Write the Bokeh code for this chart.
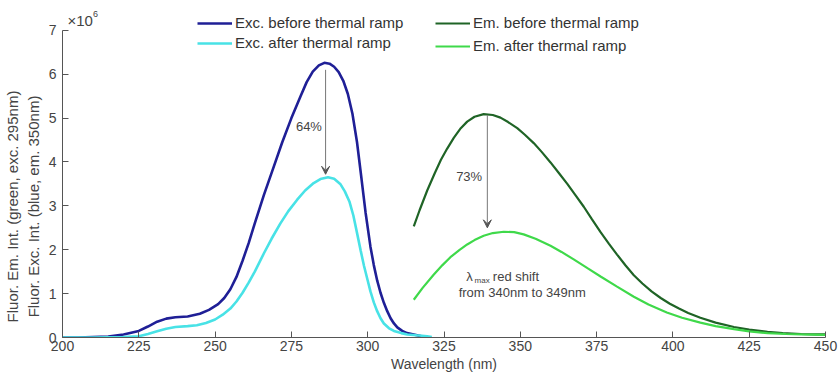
from bokeh.plotting import figure
from bokeh.models import Range1d, Label, Arrow, VeeHead, Legend, LegendItem
from bokeh.embed import file_html
from bokeh.resources import INLINE

# ---- data (values in units of 1e6) ----
exc_before_nm = [200, 205, 210, 215, 220, 225, 228, 231, 234, 237, 241, 245, 248, 251, 253,
                 255, 257, 259, 261, 263, 266, 269, 272, 275, 278, 280, 282, 284, 285.8, 287.5,
                 289, 290.5, 292, 293.5, 295, 296.5, 298, 299.3, 300.9, 302, 303.1, 304.2, 305.3,
                 306.4, 307.5, 308.6, 309.7, 311.3, 312.9, 316.2, 318]
exc_before_val = [0, 0, 0.01, 0.02, 0.07, 0.15, 0.25, 0.36, 0.43, 0.46, 0.48, 0.54, 0.63, 0.76, 0.9,
                  1.1, 1.38, 1.75, 2.15, 2.6, 3.25, 3.85, 4.45, 5.0, 5.5, 5.82, 6.06, 6.2, 6.26, 6.24,
                  6.17, 6.05, 5.85, 5.55, 5.1, 4.45, 3.6, 2.85, 2.07, 1.65, 1.3, 1.02, 0.79,
                  0.6, 0.44, 0.32, 0.23, 0.15, 0.1, 0.05, 0.02]

exc_after_nm = [200, 210, 220, 225, 228, 231, 234, 237, 241, 244, 247, 250, 252.5, 255, 257,
                259, 261, 263, 266, 268.5, 271.4, 274, 276.9, 279.5, 282.3, 284.5, 287, 289,
                291, 292.5, 294, 295.3, 296.6, 297.7, 298.8, 300, 300.9, 302, 303.1, 304.2,
                305.3, 307, 308.6, 311, 313, 316, 319.5, 321]
exc_after_val = [0, 0, 0.01, 0.03, 0.08, 0.14, 0.2, 0.24, 0.26, 0.28, 0.33, 0.41, 0.52, 0.66, 0.82,
                 1.02, 1.25, 1.5, 1.92, 2.25, 2.6, 2.88, 3.14, 3.35, 3.52, 3.61, 3.65, 3.62,
                 3.5, 3.33, 3.1, 2.78, 2.35, 1.98, 1.63, 1.3, 1.05, 0.8, 0.6, 0.44,
                 0.32, 0.21, 0.15, 0.1, 0.07, 0.05, 0.03, 0.01]

em_before_nm = [315.1, 317, 319.5, 322, 324, 326, 328.2, 330.5, 332.6, 335, 338, 341, 343.5,
                346, 349, 351.5, 354.4, 357, 359.9, 362.5, 365.4, 368, 370.8, 373.5, 376.3,
                379, 381.7, 384.5, 387.2, 390, 393, 396, 399, 402, 405, 409, 414, 420, 425,
                431, 436, 442, 447, 450]
em_before_val = [2.53, 2.9, 3.35, 3.75, 4.05, 4.3, 4.55, 4.77, 4.92, 5.03, 5.09, 5.07, 5.01,
                 4.91, 4.77, 4.62, 4.43, 4.23, 3.99, 3.76, 3.5, 3.25, 2.98, 2.69, 2.4,
                 2.14, 1.89, 1.64, 1.42, 1.23, 1.05, 0.9, 0.77, 0.66, 0.56, 0.45, 0.34, 0.24, 0.18,
                 0.13, 0.1, 0.08, 0.07, 0.07]

em_after_nm = [315.1, 318, 321.6, 324.5, 327.1, 330, 332.6, 335, 338, 341, 344.6, 348, 351.1,
               355, 359.9, 363.5, 367.5, 372, 376.3, 381.7, 387.2, 392, 398, 403, 409, 414,
               420, 425, 431, 437, 442, 450]
em_after_val = [0.86, 1.13, 1.43, 1.65, 1.83, 1.99, 2.12, 2.22, 2.32, 2.38, 2.41, 2.4, 2.35,
                2.25, 2.09, 1.95, 1.78, 1.58, 1.39, 1.16, 0.93, 0.75, 0.57, 0.45, 0.34, 0.26,
                0.19, 0.14, 0.1, 0.08, 0.07, 0.06]

x_ticks = [200, 225, 250, 275, 300, 325, 350, 375, 400, 425, 450]
y_ticks = [0, 1, 2, 3, 4, 5, 6, 7]

exc_drop = {"nm": 286.2, "from": 6.1, "to": 3.72, "text": "64%"}
em_drop = {"nm": 339.2, "from": 5.07, "to": 2.5, "text": "73%"}

FONT = "Liberation Sans"
TXT = "#444444"
PAD = "\u00a0" * 18

p = figure(width=838, height=374, output_backend="svg", toolbar_location=None,
           x_range=Range1d(200, 450), y_range=Range1d(0, 7.68),
           min_border_left=62, min_border_right=13, min_border_top=0, min_border_bottom=36)
p.outline_line_color = None
p.grid.grid_line_color = None
p.background_fill_color = "white"

for ax in (p.xaxis[0], p.yaxis[0]):
    ax.major_tick_out = 0
    ax.major_tick_in = 6
    ax.minor_tick_out = 0
    ax.minor_tick_in = 3
    ax.axis_line_color = "#555555"
    ax.major_tick_line_color = "#555555"
    ax.minor_tick_line_color = "#555555"
    ax.major_label_text_font = FONT
    ax.major_label_text_color = TXT
    ax.axis_label_text_font = FONT
    ax.axis_label_text_color = TXT
    ax.axis_label_text_font_style = "normal"

p.yaxis.bounds = (0, 7)
p.xaxis.ticker = x_ticks
p.xaxis[0].ticker.num_minor_ticks = 5
p.yaxis.ticker = y_ticks
p.yaxis[0].ticker.num_minor_ticks = 5
p.xaxis.major_label_text_font_size = "14px"
p.yaxis.major_label_text_font_size = "14px"
p.xaxis.major_label_standoff = 3
p.yaxis.major_label_standoff = 6
p.xaxis.axis_label = "Wavelength (nm)"
p.xaxis.axis_label_text_font_size = "14px"
p.xaxis.axis_label_standoff = 2
p.yaxis.axis_label = ("Fluor. Em. Int. (green, exc. 295nm)" + PAD + "\n"
                      "Fluor. Exc. Int. (blue, em. 350nm)" + PAD)
p.yaxis.axis_label_text_font_size = "15px"
p.yaxis.axis_label_standoff = 4

r1 = p.line(exc_before_nm, exc_before_val, line_color="#1f1f96", line_width=2.6)
r2 = p.line(exc_after_nm, exc_after_val, line_color="#48e2e6", line_width=2.6)
r3 = p.line(em_before_nm, em_before_val, line_color="#1f6426", line_width=2.2)
r4 = p.line(em_after_nm, em_after_val, line_color="#3fd94a", line_width=2.2)

for d in (exc_drop, em_drop):
    p.add_layout(Arrow(end=VeeHead(size=8, line_color="#555555", fill_color="#555555", line_width=1),
                       x_start=d["nm"], y_start=d["from"], x_end=d["nm"], y_end=d["to"],
                       line_color="#777777", line_width=1))
p.add_layout(Label(x=285.0, y=4.8, text=exc_drop["text"], text_align="right", text_baseline="middle",
                   text_font=FONT, text_font_size="13px", text_color=TXT))
p.add_layout(Label(x=337.5, y=3.67, text=em_drop["text"], text_align="right", text_baseline="middle",
                   text_font=FONT, text_font_size="13px", text_color=TXT))

p.add_layout(Label(x=332.3, y=1.39, text="λ", text_align="left", text_baseline="middle",
                   text_font=FONT, text_font_size="13px", text_color=TXT))
p.add_layout(Label(x=335.0, y=1.31, text="max", text_align="left", text_baseline="middle",
                   text_font=FONT, text_font_size="8px", text_color=TXT))
p.add_layout(Label(x=341.0, y=1.39, text="red shift", text_align="left", text_baseline="middle",
                   text_font=FONT, text_font_size="13px", text_color=TXT))
p.add_layout(Label(x=329.8, y=1.03, text="from 340nm to 349nm", text_align="left",
                   text_baseline="middle", text_font=FONT, text_font_size="13px", text_color=TXT))

p.add_layout(Label(x=201.6, y=7.22, text="×10", text_align="left", text_baseline="middle",
                   text_font=FONT, text_font_size="15px", text_color=TXT))
p.add_layout(Label(x=210.0, y=7.38, text="6", text_align="left", text_baseline="middle",
                   text_font=FONT, text_font_size="9px", text_color=TXT))

leg1 = Legend(items=[LegendItem(label="Exc. before thermal ramp", renderers=[r1]),
                     LegendItem(label="Exc. after thermal ramp", renderers=[r2])],
              location=(135, 286), glyph_width=35, glyph_height=16, label_height=16,
              label_standoff=3, spacing=3, padding=0, margin=0,
              border_line_alpha=0, background_fill_alpha=0,
              label_text_font=FONT, label_text_font_size="15px", label_text_color="#333333")
leg2 = Legend(items=[LegendItem(label="Em. before thermal ramp", renderers=[r3]),
                     LegendItem(label="Em. after thermal ramp", renderers=[r4])],
              location=(373, 283), glyph_width=35, glyph_height=16, label_height=16,
              label_standoff=3, spacing=6, padding=0, margin=0,
              border_line_alpha=0, background_fill_alpha=0,
              label_text_font=FONT, label_text_font_size="15px", label_text_color="#333333")
p.add_layout(leg1)
p.add_layout(leg2)

open("out.html", "w").write(file_html(p, INLINE))
